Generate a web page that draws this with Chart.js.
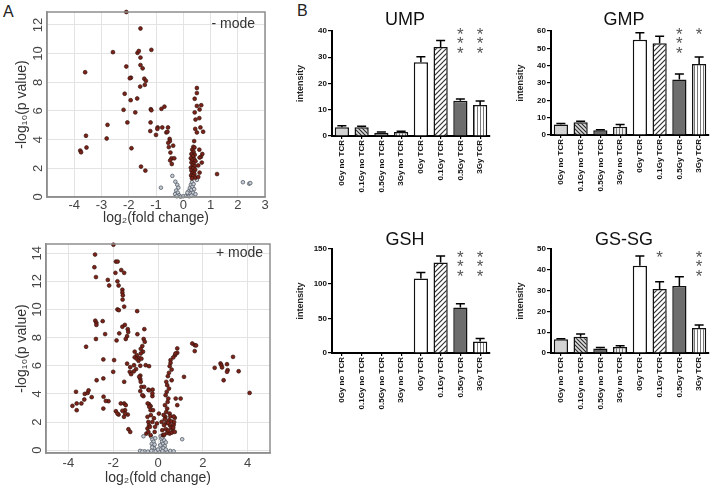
<!DOCTYPE html>
<html>
<head>
<meta charset="utf-8">
<script src="https://cdn.jsdelivr.net/npm/chart.js@4.4.1/dist/chart.umd.min.js"></script>
<style>
  body { margin: 0; background: #fff; width: 714px; height: 489px; position: relative; overflow: hidden; font-family: "Liberation Sans", Arial, sans-serif; }
  canvas { position: absolute; }
  .letter { position: absolute; font-size: 16px; line-height: 16px; color: #222; }
</style>
</head>
<body>
<div class="letter" style="left:3px;top:4px">A</div>
<div class="letter" style="left:297px;top:3px">B</div>
<canvas id="volcanoNeg" width="290" height="232" style="left:0;top:0"></canvas>
<canvas id="volcanoPos" width="290" height="257" style="left:0;top:232px"></canvas>
<canvas id="barUMP" width="220" height="232" style="left:290px;top:0"></canvas>
<canvas id="barGMP" width="204" height="232" style="left:510px;top:0"></canvas>
<canvas id="barGSH" width="220" height="257" style="left:290px;top:232px"></canvas>
<canvas id="barGSSG" width="204" height="257" style="left:510px;top:232px"></canvas>
<script>
// ---- panel A: volcano plots, [log2 fold change, -log10 p] ----
const negModeSig = [
  [-2.09, 12.9], [-1.57, 11.75], [-2.58, 10.1], [-1.17, 10.26], [-1.68, 10.05], [-1.63, 10.18],
  [-1.57, 9.72], [-2.09, 9.1], [-1.57, 9.2], [-1.49, 8.97], [-3.6, 8.7], [-1.92, 8.32],
  [-1.96, 8.28], [-1.43, 8.25], [-1.37, 8.1], [-1.58, 7.7], [-1.41, 7.82], [-2.15, 7.2],
  [-1.93, 6.75], [-1.69, 6.87], [-2.19, 6.08], [-1.76, 5.9], [-2.05, 5.2], [-1.19, 6.12],
  [-1.17, 6.05], [-0.8, 6.15], [-0.69, 6.3], [-1.2, 5.2], [-1.21, 4.6], [-0.94, 4.85],
  [-0.77, 4.85], [-0.56, 4.85], [-0.95, 4.75], [-1.0, 4.33], [-0.62, 4.5], [-0.58, 4.55],
  [-0.5, 4.05], [-0.49, 3.9], [-0.55, 3.78], [-0.37, 3.58], [-0.53, 3.48], [-0.47, 3.1],
  [-0.43, 2.7], [-0.33, 2.7], [-0.48, 2.55], [-0.42, 2.3], [-1.9, 3.4], [-1.55, 2.12],
  [-1.39, 1.84], [-2.78, 5.03], [-2.81, 4.08], [-3.78, 3.24], [-3.75, 3.12], [-3.57, 4.27],
  [-3.55, 3.45],
  [0.5, 7.6], [0.5, 7.25], [0.42, 6.85], [0.5, 6.35], [0.66, 6.4], [0.6, 6.1], [0.42, 5.9],
  [0.59, 5.5], [0.45, 5.4], [0.63, 4.85], [0.44, 4.75], [0.73, 4.55], [0.5, 4.5], [0.4, 3.9],
  [0.37, 3.5], [0.41, 3.45], [0.7, 3.0], [0.65, 2.8], [0.6, 2.75], [1.24, 1.6], [0.59, 3.3],
  [0.33, 3.3], [0.38, 3.15], [0.3, 3.0], [0.42, 2.95], [0.35, 2.85], [0.28, 2.7], [0.4, 2.65],
  [0.33, 2.55], [0.45, 2.5], [0.3, 2.4], [0.38, 2.35], [0.35, 2.2], [0.42, 2.15], [0.28, 2.05],
  [0.36, 2.0], [0.44, 1.9], [0.3, 1.85], [0.38, 1.75], [0.33, 1.65], [0.41, 1.6], [0.29, 1.5],
  [0.36, 1.45], [0.45, 1.35], [0.32, 1.3], [0.55, 2.2], [0.6, 1.7], [0.68, 2.4], [0.55, 1.4]
];
const negModeNs = [
  [-0.82, 0.65], [-0.4, 1.47], [-0.29, 1.07], [-0.22, 0.85], [-0.18, 0.65], [-0.26, 0.45],
  [-0.2, 0.3], [-0.3, 0.2], [-0.15, 0.12], [-0.24, 0.05], [-0.1, 0.02], [0.0, 0.05],
  [0.1, 0.08], [0.18, 0.15], [0.2, 0.4], [0.24, 0.62], [0.28, 0.85], [0.32, 1.05],
  [0.26, 0.25], [0.3, 0.5], [0.34, 0.72], [0.36, 0.3], [0.38, 0.9], [0.22, 0.05],
  [0.3, 0.1], [0.4, 0.55], [0.5, 1.19], [0.45, 0.2], [0.15, 0.3],
  [2.19, 1.03], [2.42, 0.93], [2.46, 0.97]
];
const posModeSig = [
  [-2.81, 13.9], [-2.84, 13.0], [-2.77, 12.3], [-1.99, 14.6], [-1.88, 13.4], [-1.8, 13.4],
  [-1.9, 12.6], [-1.64, 12.8], [-1.51, 12.6], [-2.24, 12.1], [-2.18, 11.7], [-1.81, 12.0],
  [-1.76, 11.7], [-1.59, 11.4], [-1.59, 11.2], [-1.57, 11.0], [-1.58, 10.7], [-1.51, 10.2],
  [-1.81, 10.0], [-1.75, 9.95], [-0.93, 9.88],
  [-2.8, 9.2], [-2.75, 9.05], [-2.75, 8.9], [-2.47, 9.17], [-2.77, 7.9], [-2.36, 8.25],
  [-3.21, 7.35], [-2.44, 6.45], [-2.74, 4.97], [-2.44, 5.1],
  [-1.59, 8.77], [-1.48, 8.9], [-1.35, 8.6], [-1.73, 8.3], [-1.85, 7.8], [-1.33, 8.4],
  [-1.38, 8.1], [-1.44, 7.9], [-0.92, 8.24], [-0.64, 7.9], [-0.61, 8.6], [-0.59, 7.7],
  [-0.7, 7.4], [-0.67, 7.0], [-1.04, 7.0], [-0.95, 6.75], [-1.04, 6.6], [-0.95, 6.5],
  [-0.84, 6.55], [-0.77, 7.2], [-0.77, 6.87], [-0.87, 6.35], [-0.74, 6.5], [-1.38, 6.15],
  [-1.24, 5.9], [-1.07, 6.04], [-0.98, 5.76], [-0.79, 6.0], [-0.55, 6.04], [-0.4, 5.97],
  [-1.26, 5.57], [-1.08, 5.6], [-1.2, 5.4], [-0.79, 5.3], [-0.79, 5.05], [-0.74, 4.5],
  [-0.79, 4.2], [-0.65, 3.84], [-0.24, 4.3], [-0.43, 4.3], [-0.25, 3.84], [-0.4, 3.27],
  [-0.33, 3.13], [-0.33, 2.84], [-0.32, 2.49], [-1.96, 6.4], [-2.0, 5.57], [-1.51, 4.86],
  [-3.66, 4.15], [-3.82, 3.15], [-3.63, 3.32], [-3.42, 3.32], [-3.63, 2.84], [-3.27, 4.0],
  [-3.14, 4.07], [-3.29, 3.6], [-2.96, 3.77], [-3.1, 4.25], [-2.43, 3.8], [-2.44, 2.96],
  [-2.21, 3.48], [-2.33, 3.5], [-1.88, 2.77], [-1.76, 2.53], [-1.51, 3.32], [-1.47, 2.84],
  [-1.35, 2.53], [-1.32, 1.49], [-1.24, 1.3], [-1.52, 2.37],
  [-0.47, 2.37], [-0.43, 2.01], [-0.4, 1.78], [-0.47, 1.54], [-0.36, 1.66], [-0.52, 1.18],
  [-0.43, 1.3], [-0.33, 1.07], [-0.25, 2.01], [-0.22, 2.84], [-0.25, 4.03], [-0.4, 4.26],
  [-0.46, 3.32], [-0.39, 3.08], [-0.7, 3.91], [-0.62, 4.5], [-0.77, 4.86], [-0.84, 5.21],
  [-1.44, 3.2], [-1.59, 2.8], [-1.47, 2.6], [-1.81, 2.6], [-1.66, 3.32],
  [-0.18, 2.27], [-0.13, 1.66], [-0.15, 1.3], [-0.05, 1.9],
  [0.86, 6.92], [0.76, 6.75], [0.68, 6.59], [0.56, 6.4], [0.56, 6.2], [0.52, 5.97],
  [0.61, 5.73], [0.49, 5.5], [0.44, 5.26], [0.61, 4.97], [0.37, 4.86], [0.41, 4.62],
  [0.49, 4.38], [0.39, 4.15], [0.34, 3.91], [0.46, 3.67], [0.43, 3.43], [0.31, 3.2],
  [0.41, 2.96], [0.37, 2.72], [0.52, 2.6], [0.33, 2.37], [0.49, 2.13], [0.37, 1.94],
  [0.53, 1.78], [0.27, 1.78], [0.59, 1.61], [0.19, 1.42], [0.41, 1.23], [0.52, 1.18],
  [0.79, 3.67], [1.01, 3.67], [0.86, 3.2], [1.16, 5.21], [0.04, 2.6], [0.16, 2.01],
  [0.22, 1.07], [0.86, 7.23], [0.78, 6.87],
  [0.25, 2.5], [0.3, 2.2], [0.45, 1.95], [0.6, 2.05], [0.65, 1.5], [0.7, 1.8], [0.35, 1.5],
  [0.46, 1.4], [0.28, 1.1], [0.62, 1.25], [0.75, 2.3], [0.55, 2.4], [0.7, 2.4], [0.72, 2.0],
  [0.68, 1.6], [0.75, 1.3],
  [1.53, 7.58], [1.64, 7.46], [1.7, 7.44], [1.64, 7.04], [2.53, 5.85], [2.79, 6.16],
  [2.83, 6.04], [2.86, 5.88], [3.08, 6.11], [3.11, 5.69], [3.08, 5.57], [2.93, 4.97],
  [3.35, 6.63], [3.6, 5.61], [4.09, 4.07]
];
const posModeNs = [
  [-0.65, 0.99], [1.08, 0.78], [-0.3, 0.95], [-0.25, 0.75], [-0.2, 0.6], [-0.28, 0.45],
  [-0.22, 0.3], [-0.18, 0.15], [-0.26, 0.2], [-0.15, 0.4], [-0.12, 0.85], [0.12, 1.0],
  [0.15, 0.8], [0.2, 0.9], [0.25, 1.05], [0.18, 0.6], [0.22, 0.45], [0.28, 0.7],
  [0.3, 0.3], [0.16, 0.25], [0.24, 0.15], [0.35, 0.55], [0.1, 0.35], [-0.8, -0.05],
  [-0.6, -0.08], [-0.45, -0.1], [-0.3, -0.05], [-0.1, -0.08], [0.05, -0.1], [0.2, -0.06],
  [0.4, -0.1], [0.55, -0.05], [0.7, -0.08], [-0.7, -0.1], [0.0, 0.05], [0.35, 0.05]
];
const negXTicks = [-4, -3, -2, -1, 0, 1, 2, 3];
const negYTicks = [0, 2, 4, 6, 8, 10, 12];
const posXTicks = [-4, -2, 0, 2, 4];
const posYTicks = [0, 2, 4, 6, 8, 10, 12, 14];

// ---- panel B: bar charts ----
const groups = ["0Gy no TCR", "0.1Gy no TCR", "0.5Gy no TCR", "3Gy no TCR",
                "0Gy TCR", "0.1Gy TCR", "0.5Gy TCR", "3Gy TCR"];
const umpValues = [3.3, 3.3, 1.2, 1.5, 28.1, 33.9, 13.4, 11.8];
const umpErrors = [0.6, 0.4, 0.3, 0.3, 2.1, 2.5, 0.7, 1.5];
const umpStars = ["", "", "", "", "", "", "***", "***"];
const gmpValues = [6.0, 7.3, 2.7, 4.7, 55, 53, 32, 41];
const gmpErrors = [0.6, 0.6, 0.4, 1.3, 4, 4, 3.2, 4];
const gmpStars = ["", "", "", "", "", "", "***", "*"];
const gshValues = [0, 0, 0, 0, 107.5, 130.5, 65.5, 16.5];
const gshErrors = [0, 0, 0, 0, 8.5, 9.5, 5.5, 4.5];
const gshStars = ["", "", "", "", "", "", "***", "***"];
const gssgValues = [6.6, 7.8, 2.2, 2.9, 42, 30.8, 32.2, 12];
const gssgErrors = [0.3, 1.3, 0.4, 0.6, 4.6, 3.5, 4.5, 1.5];
const gssgStars = ["", "", "", "", "", "*", "", "***"];

Chart.defaults.font.family = '"Liberation Sans", Arial, sans-serif';
Chart.defaults.animation = false;

// grey box round the volcano plot area, plus the mode label
const frameBox = {
  id: "frameBox",
  afterDraw(chart) {
    const o = chart.options.plugins.frameBox;
    const { ctx, chartArea } = chart;
    ctx.save();
    ctx.strokeStyle = "#8e8e8e";
    ctx.lineWidth = 1.5;
    ctx.strokeRect(chartArea.left, chartArea.top, chartArea.width, chartArea.height);
    ctx.fillStyle = "#333";
    ctx.font = '14px "Liberation Sans", Arial, sans-serif';
    ctx.textAlign = "right";
    ctx.textBaseline = "alphabetic";
    ctx.fillText(o.label, chartArea.right - o.dx, chartArea.top + o.dy);
    ctx.restore();
  },
};

function toPoints(list) {
  return list.map(([x, y]) => ({ x, y }));
}

function makeVolcano(id, sig, ns, xr, yr, xTicks, yTicks, layout) {
  new Chart(document.getElementById(id), {
    type: "scatter",
    data: {
      datasets: [
        { data: toPoints(sig), backgroundColor: "#7c2219", borderColor: "#35150f",
          borderWidth: 0.7, pointRadius: 1.9, clip: false },
        { data: toPoints(ns), backgroundColor: "#c6cdd5", borderColor: "#555c66",
          borderWidth: 0.8, pointRadius: 1.8, clip: false },
      ],
    },
    options: {
      responsive: false,
      layout: { padding: { top: layout.top, right: layout.right, left: 0, bottom: 0 } },
      scales: {
        x: {
          type: "linear", min: xr[0], max: xr[1],
          afterBuildTicks: (s) => { s.ticks = xTicks.map((v) => ({ value: v })); },
          afterFit: (s) => { s.height = layout.xh; },
          grid: { color: "#e3e3e3", drawTicks: false },
          border: { color: "#8e8e8e", width: 1.5 },
          ticks: { font: { size: 13 }, color: "#444", padding: layout.xpad, maxRotation: 0 },
          title: { display: true, text: "log\u2082(fold change)", font: { size: 14 },
                   color: "#333", padding: { top: 0, bottom: layout.titleBottom } },
        },
        y: {
          min: yr[0], max: yr[1],
          afterBuildTicks: (s) => { s.ticks = yTicks.map((v) => ({ value: v })); },
          afterFit: (s) => { s.width = layout.yw; },
          grid: { color: "#e3e3e3", drawTicks: false },
          border: { color: "#8e8e8e", width: 1.5 },
          ticks: { font: { size: 13 }, color: "#444", padding: 1, minRotation: 90,
                   maxRotation: 90, crossAlign: "center" },
          title: { display: true, text: "-log\u2081\u2080(p value)", font: { size: 14 },
                   color: "#333", padding: { top: 14, bottom: 0 } },
        },
      },
      plugins: {
        legend: { display: false },
        tooltip: { enabled: false },
        frameBox: { label: layout.label, dx: layout.labelDx, dy: layout.labelDy },
      },
    },
    plugins: [frameBox],
  });
}

makeVolcano("volcanoNeg", negModeSig, negModeNs, [-5, 3], [0, 12.9], negXTicks, negYTicks,
  { top: 12, right: 25, xh: 35, yw: 47, xpad: 1, titleBottom: 5.5, label: "- mode", labelDx: 10, labelDy: 16 });
makeVolcano("volcanoPos", posModeSig, posModeNs, [-5, 5], [-0.2, 14.65], posXTicks, posYTicks,
  { top: 12, right: 20, xh: 36, yw: 46, xpad: 3, titleBottom: 2.5, label: "+ mode", labelDx: 7, labelDy: 13 });

// fill patterns for the bar groups
function hatch(kind, bg, fg, size, lw) {
  const c = document.createElement("canvas");
  c.width = size;
  c.height = size;
  const g = c.getContext("2d");
  g.fillStyle = bg;
  g.fillRect(0, 0, size, size);
  g.strokeStyle = fg;
  g.lineWidth = lw;
  g.beginPath();
  if (kind === "vertical") {
    g.moveTo(size / 2, 0); g.lineTo(size / 2, size);
  } else if (kind === "forward") {
    g.moveTo(0, size); g.lineTo(size, 0);
    g.moveTo(-1, 1); g.lineTo(1, -1);
    g.moveTo(size - 1, size + 1); g.lineTo(size + 1, size - 1);
  } else {
    g.moveTo(0, 0); g.lineTo(size, size);
    g.moveTo(-1, size - 1); g.lineTo(1, size + 1);
    g.moveTo(size - 1, -1); g.lineTo(size + 1, 1);
  }
  g.stroke();
  return g.createPattern(c, "repeat");
}
const barFills = [
  "#d3d3d3",
  hatch("back", "#d9d9d9", "#2a2a2a", 4, 1.1),
  "#6b6b6b",
  hatch("vertical", "#ececec", "#7a7a7a", 3, 1),
  "#ffffff",
  hatch("forward", "#ffffff", "#333333", 5, 1.2),
  "#6d6d6d",
  hatch("vertical", "#ffffff", "#6a6a6a", 3, 0.9),
];

// error caps, significance stars and the panel title
const barExtras = {
  id: "barExtras",
  afterDatasetsDraw(chart) {
    const o = chart.options.plugins.barExtras;
    const { ctx, chartArea } = chart;
    const yScale = chart.scales.y;
    const xScale = chart.scales.x;
    const values = chart.data.datasets[0].data;
    ctx.save();
    ctx.strokeStyle = "#000";
    ctx.lineWidth = 1.5;
    chart.getDatasetMeta(0).data.forEach((bar, i) => {
      if (!values[i] || !o.errors[i]) return;
      const yTop = yScale.getPixelForValue(values[i] + o.errors[i]);
      ctx.beginPath();
      ctx.moveTo(bar.x, bar.y);
      ctx.lineTo(bar.x, yTop);
      ctx.moveTo(bar.x - 4.5, yTop);
      ctx.lineTo(bar.x + 4.5, yTop);
      ctx.stroke();
    });

    ctx.fillStyle = "#555";
    ctx.font = '17px "Liberation Sans", Arial, sans-serif';
    ctx.textAlign = "center";
    ctx.textBaseline = "alphabetic";
    o.stars.forEach((s, i) => {
      const x = xScale.getPixelForValue(i);
      for (let k = 0; k < s.length; k++) {
        ctx.fillText("*", x, o.starTop + k * 9.6 + 9.8);
      }
    });

    ctx.fillStyle = "#111";
    ctx.font = '18px "Liberation Sans", Arial, sans-serif';
    ctx.fillText(o.title, (chartArea.left + chartArea.right) / 2 - 6, o.titleBase);
    ctx.restore();
  },
};

function makeBars(id, title, values, errors, stars, yMax, yStep, layout) {
  new Chart(document.getElementById(id), {
    type: "bar",
    data: {
      labels: groups,
      datasets: [{
        data: values,
        backgroundColor: barFills,
        borderColor: "#111",
        borderWidth: 1.5,
        borderSkipped: "bottom",
        barPercentage: 0.72,
        categoryPercentage: 1,
      }],
    },
    options: {
      responsive: false,
      layout: { padding: { top: layout.top, right: layout.right, left: 0, bottom: 0 } },
      scales: {
        x: {
          afterFit: (s) => { s.height = layout.xh; },
          grid: { display: true, drawOnChartArea: false, offset: false, tickLength: 3,
                  color: "#000", lineWidth: 1.2 },
          border: { color: "#000", width: 2 },
          ticks: { font: { size: 8, weight: "bold" }, color: "#111", padding: 1,
                   minRotation: 90, maxRotation: 90, autoSkip: false },
        },
        y: {
          min: 0, max: yMax,
          afterFit: (s) => { s.width = layout.yw; },
          grid: { drawOnChartArea: false, tickLength: 4, color: "#000", lineWidth: 1.2 },
          border: { color: "#000", width: 2 },
          ticks: { stepSize: yStep, font: { size: 8, weight: "bold" }, color: "#111", padding: 1 },
          title: { display: true, text: "intensity", font: { size: 9, weight: "bold" },
                   color: "#222", padding: { top: 5, bottom: 0 } },
        },
      },
      plugins: {
        legend: { display: false },
        tooltip: { enabled: false },
        barExtras: { title, errors, stars, starTop: layout.starTop, titleBase: layout.titleBase },
      },
    },
    plugins: [barExtras],
  });
}

makeBars("barUMP", "UMP", umpValues, umpErrors, umpStars, 40, 10,
  { top: 31, right: 20, xh: 96, yw: 42, starTop: 30, titleBase: 25 });
makeBars("barGMP", "GMP", gmpValues, gmpErrors, gmpStars, 60, 10,
  { top: 31, right: 5, xh: 97, yw: 41, starTop: 30, titleBase: 25 });
makeBars("barGSH", "GSH", gshValues, gshErrors, gshStars, 150, 50,
  { top: 17, right: 20, xh: 136, yw: 42, starTop: 21, titleBase: 13 });
makeBars("barGSSG", "GS-SG", gssgValues, gssgErrors, gssgStars, 50, 10,
  { top: 17, right: 5, xh: 136, yw: 41, starTop: 21, titleBase: 13 });
</script>
</body>
</html>
